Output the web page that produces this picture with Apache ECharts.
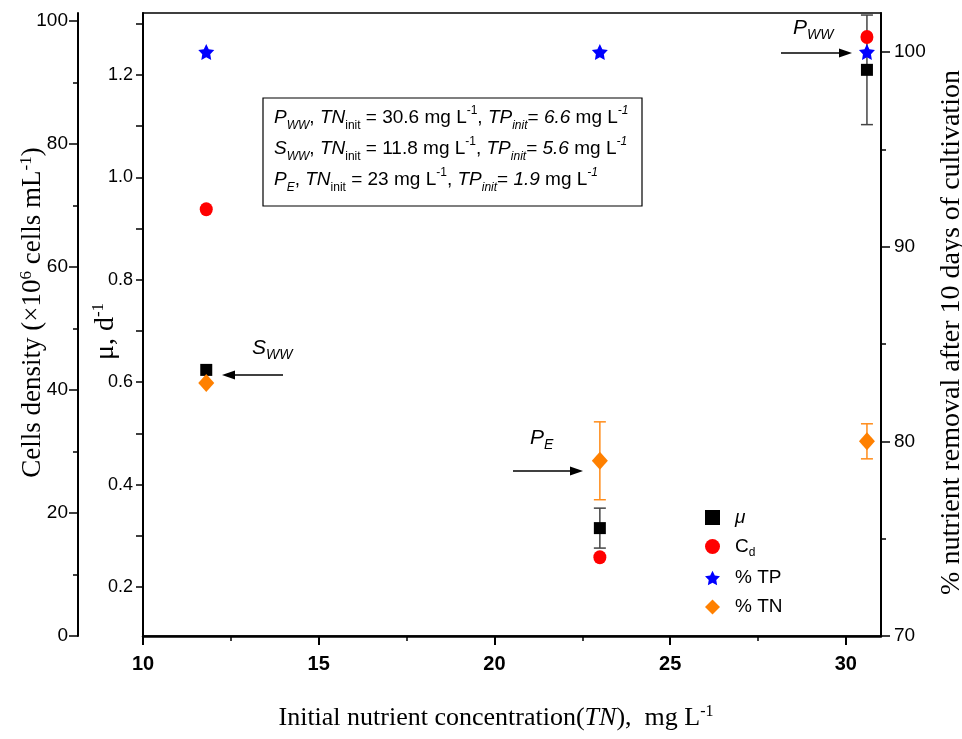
<!DOCTYPE html>
<html>
<head>
<meta charset="utf-8">
<script src="https://cdn.jsdelivr.net/npm/echarts@6/dist/echarts.min.js"></script>
<style>
  html, body { margin: 0; padding: 0; background: #fff; }
  #chart { width: 962px; height: 739px; }
</style>
</head>
<body>
<div id="chart"></div>
<script>
// Initial TN of the three media: S_WW, P_E, P_WW
const tnInit = [11.8, 23, 30.6];
// Specific growth rate (d^-1) and its deviation
const muVals = [0.624, 0.315, 1.21];
const muErr = [0, 0.039, 0.107];
// Cell density (x10^6 cells/mL)
const cdVals = [69.4, 12.8, 97.4];
// Nutrient removal after 10 days (%)
const tpVals = [100, 100, 100];
const tnVals = [83.0, 79.0, 80.0];
const tnErr = [0, 2.0, 0.9];

// Tick positions
const xTicks = [10, 15, 20, 25, 30];
const xMinorTicks = [12.5, 17.5, 22.5, 27.5];
const muLabels = [0.2, 0.4, 0.6, 0.8, 1.0, 1.2];
const muTicks = [0.2, 0.3, 0.4, 0.5, 0.6, 0.7, 0.8, 0.9, 1.0, 1.1, 1.2, 1.3];
const cellTicks = [0, 20, 40, 60, 80, 100];
const cellMinorTicks = [10, 30, 50, 70, 90];
const removalTicks = [70, 80, 90, 100];
const removalMinorTicks = [75, 85, 95];

const SANS = "'Liberation Sans', Arial, sans-serif";
const SERIF = "'Liberation Serif', 'Times New Roman', serif";

const STAR = 'path://M0,-10 L2.94,-4.05 9.51,-3.09 4.76,1.55 5.88,8.09 0,5 -5.88,8.09 -4.76,1.55 -9.51,-3.09 -2.94,-4.05Z';

const chart = echarts.init(document.getElementById('chart'), null, { renderer: 'canvas' });

function zip2(a, b) { return a.map((v, i) => [v, b[i]]); }
function errRows(xs, ys, es) {
  return xs.map((x, i) => [x, ys[i] - es[i], ys[i] + es[i]]).filter((r, i) => es[i] > 0);
}

function errorBar(color) {
  return function (params, api) {
    const x = api.value(0);
    const lo = api.coord([x, api.value(1)]);
    const hi = api.coord([x, api.value(2)]);
    const cap = 6;
    const style = { stroke: color, lineWidth: 1.5 };
    return {
      type: 'group',
      children: [
        { type: 'line', shape: { x1: lo[0], y1: lo[1], x2: hi[0], y2: hi[1] }, style },
        { type: 'line', shape: { x1: lo[0] - cap, y1: lo[1], x2: lo[0] + cap, y2: lo[1] }, style },
        { type: 'line', shape: { x1: hi[0] - cap, y1: hi[1], x2: hi[0] + cap, y2: hi[1] }, style }
      ]
    };
  };
}

const axisLineStyle = { color: '#000', width: 2 };

function tickOnlyAxis(base, ticks, len) {
  return Object.assign({
    type: 'value',
    gridIndex: 0,
    axisLine: { show: false, onZero: false },
    axisTick: { show: true, customValues: ticks, length: len, lineStyle: { color: '#000', width: 1.5 } },
    axisLabel: { show: false },
    splitLine: { show: false }
  }, base);
}

const subRich = {
  n: { fontFamily: SANS, fontSize: 19, color: '#000', lineHeight: 31 },
  i: { fontFamily: SANS, fontSize: 19, fontStyle: 'italic', color: '#000', lineHeight: 31 },
  sb: { fontFamily: SANS, fontSize: 12, color: '#000', verticalAlign: 'bottom', lineHeight: 31, padding: [0, 0, 1, 0] },
  sbi: { fontFamily: SANS, fontSize: 12, fontStyle: 'italic', color: '#000', verticalAlign: 'bottom', lineHeight: 31, padding: [0, 0, 1, 0] },
  sp: { fontFamily: SANS, fontSize: 12, color: '#000', verticalAlign: 'top', lineHeight: 31, padding: [3, 0, 0, 0] },
  spi: { fontFamily: SANS, fontSize: 12, fontStyle: 'italic', color: '#000', verticalAlign: 'top', lineHeight: 31, padding: [3, 0, 0, 0] }
};

const boxText = [
  '{i|P}{sbi|WW}{n|, }{i|TN}{sb|init}{n| = 30.6 mg L}{sp|-1}{n|, }{i|TP}{sbi|init}{n|= }{i|6.6}{n| mg L}{spi|-1}',
  '{i|S}{sbi|WW}{n|, }{i|TN}{sb|init}{n| = 11.8 mg L}{sp|-1}{n|, }{i|TP}{sbi|init}{n|= }{i|5.6}{n| mg L}{spi|-1}',
  '{i|P}{sbi|E}{n|, }{i|TN}{sb|init}{n| = 23 mg L}{sp|-1}{n|, }{i|TP}{sbi|init}{n|= }{i|1.9}{n| mg L}{spi|-1}'
].join('\n');

const tagRich = {
  b: { fontFamily: SANS, fontSize: 21, fontStyle: 'italic', color: '#000', lineHeight: 28 },
  s: { fontFamily: SANS, fontSize: 14, fontStyle: 'italic', color: '#000', verticalAlign: 'bottom', lineHeight: 28 }
};

function arrow(x1, x2, y) {
  const dir = x2 > x1 ? 1 : -1;
  const head = 13;
  return [
    { type: 'line', shape: { x1: x1, y1: y, x2: x2 - dir * head, y2: y }, style: { stroke: '#000', lineWidth: 1.3 } },
    { type: 'polygon', shape: { points: [[x2, y], [x2 - dir * head, y - 4.5], [x2 - dir * head, y + 4.5]] }, style: { fill: '#000' } }
  ];
}

const option = {
  animation: false,
  backgroundColor: '#fff',
  grid: [{
    left: 143, right: 81, top: 13, bottom: 103, containLabel: false, outerBoundsMode: 'none',
    show: true, borderColor: '#000', borderWidth: 1.5, backgroundColor: 'transparent'
  }],
  xAxis: [
    {
      type: 'value', gridIndex: 0, position: 'bottom', min: 10, max: 31,
      axisLine: { show: true, onZero: false, lineStyle: { color: '#000', width: 2.5 } },
      axisTick: { show: true, customValues: xTicks, length: 9, lineStyle: { color: '#000', width: 2 } },
      axisLabel: { customValues: xTicks, margin: 18, fontFamily: SANS, fontSize: 20, fontWeight: 'bold', color: '#000' },
      splitLine: { show: false },
      name: 'Initial nutrient concentration({it|TN}),  mg L{sp|-1}',
      nameLocation: 'middle', nameGap: 68, nameMoveOverlap: false,
      nameTextStyle: {
        fontFamily: SERIF, fontSize: 26, color: '#000', padding: [0, 32, 0, 0],
        rich: {
          it: { fontFamily: SERIF, fontSize: 26, fontStyle: 'italic', color: '#000' },
          sp: { fontFamily: SERIF, fontSize: 16, color: '#000', verticalAlign: 'top', padding: [0, 0, 12, 0] }
        }
      }
    },
    tickOnlyAxis({ position: 'bottom', min: 10, max: 31 }, xMinorTicks, 5)
  ],
  yAxis: [
    {
      // growth rate, inner left
      type: 'value', gridIndex: 0, position: 'left', offset: 0, min: 0.1043, max: 1.321,
      axisLine: { show: true, onZero: false, lineStyle: axisLineStyle },
      axisTick: { show: true, customValues: muTicks, length: 7, lineStyle: { color: '#000', width: 1.5 } },
      axisLabel: { customValues: muLabels, margin: 10, fontFamily: SANS, fontSize: 18, color: '#000', formatter: v => v.toFixed(1) },
      splitLine: { show: false },
      name: '\u03bc, d{sp|-1}', nameLocation: 'middle', nameGap: 22, nameRotate: 90, nameMoveOverlap: false,
      nameTextStyle: {
        fontFamily: SERIF, fontSize: 28, color: '#000', padding: [0, 14, 0, 0],
        rich: { sp: { fontFamily: SERIF, fontSize: 17, color: '#000', verticalAlign: 'top', padding: [0, 0, 14, 0] } }
      }
    },
    {
      // cell density, outer left
      type: 'value', gridIndex: 0, position: 'left', offset: 65, min: 0, max: 101.3,
      axisLine: { show: true, onZero: false, lineStyle: axisLineStyle },
      axisTick: { show: true, customValues: cellTicks, length: 9, lineStyle: { color: '#000', width: 1.5 } },
      axisLabel: { customValues: cellTicks, margin: 10, fontFamily: SANS, fontSize: 19, color: '#000' },
      splitLine: { show: false },
      name: 'Cells density (\u00d710{sp|6} cells mL{sp|-1})', nameLocation: 'middle', nameGap: 30, nameRotate: 90, nameMoveOverlap: false,
      nameTextStyle: {
        fontFamily: SERIF, fontSize: 27, color: '#000', padding: [0, 0, 0, 24],
        rich: { sp: { fontFamily: SERIF, fontSize: 17, color: '#000', verticalAlign: 'top', padding: [0, 0, 13, 0] } }
      }
    },
    tickOnlyAxis({ position: 'left', offset: 65, min: 0, max: 101.3 }, cellMinorTicks, 5),
    {
      // removal %, right
      type: 'value', gridIndex: 0, position: 'right', offset: 0, min: 70, max: 102,
      axisLine: { show: true, onZero: false, lineStyle: axisLineStyle },
      axisTick: { show: true, customValues: removalTicks, length: 9, lineStyle: { color: '#000', width: 1.5 } },
      axisLabel: { customValues: removalTicks, margin: 13, fontFamily: SANS, fontSize: 19, color: '#000' },
      splitLine: { show: false },
      name: '% nutrient removal after 10 days of cultivation', nameLocation: 'middle', nameGap: 57, nameRotate: 90, nameMoveOverlap: false,
      nameTextStyle: { fontFamily: SERIF, fontSize: 28, color: '#000', padding: [0, 16, 0, 0] }
    },
    tickOnlyAxis({ position: 'right', offset: 0, min: 70, max: 102 }, removalMinorTicks, 5)
  ],
  legend: {
    orient: 'vertical', left: 700, top: 503, itemWidth: 15, itemHeight: 15, itemGap: 10,
    textStyle: {
      fontFamily: SANS, fontSize: 19, color: '#000', padding: [0, 0, 0, 10],
      rich: {
        i: { fontFamily: SANS, fontSize: 19, fontStyle: 'italic', color: '#000' },
        s: { fontFamily: SANS, fontSize: 12, color: '#000', verticalAlign: 'bottom', padding: [12, 0, 0, 0] }
      }
    },
    formatter: function (name) {
      if (name === 'mu') return '{i|\u03bc}';
      if (name === 'Cd') return 'C{s|d}';
      return name;
    },
    data: [
      { name: 'mu', icon: 'rect' },
      { name: 'Cd', icon: 'circle' },
      { name: '% TP', icon: STAR },
      { name: '% TN', icon: 'diamond' }
    ]
  },
  graphic: [
    { type: 'rect', shape: { x: 263, y: 98, width: 379, height: 108 }, style: { fill: 'none', stroke: '#000', lineWidth: 1.2 }, z: 10 },
    { type: 'text', x: 274, y: 102, style: { text: boxText, rich: subRich, fill: '#000' }, z: 10 },
    { type: 'text', x: 793, y: 14, style: { text: '{b|P}{s|WW}', rich: tagRich }, z: 10 },
    { type: 'text', x: 252, y: 334, style: { text: '{b|S}{s|WW}', rich: tagRich }, z: 10 },
    { type: 'text', x: 530, y: 424, style: { text: '{b|P}{s|E}', rich: tagRich }, z: 10 }
  ].concat(arrow(781, 852, 53), arrow(283, 222, 375), arrow(513, 583, 471)),
  series: [
    {
      name: 'muErr', type: 'custom', xAxisIndex: 0, yAxisIndex: 0, z: 1,
      renderItem: errorBar('#444'), encode: { x: 0, y: [1, 2] },
      data: errRows(tnInit, muVals, muErr), silent: true
    },
    {
      name: 'tnErr', type: 'custom', xAxisIndex: 0, yAxisIndex: 3, z: 1,
      renderItem: errorBar('#ff8c1a'), encode: { x: 0, y: [1, 2] },
      data: errRows(tnInit, tnVals, tnErr), silent: true
    },
    {
      name: 'mu', type: 'scatter', xAxisIndex: 0, yAxisIndex: 0, z: 3,
      symbol: 'rect', symbolSize: 12, itemStyle: { color: '#000', opacity: 1 },
      data: zip2(tnInit, muVals)
    },
    {
      name: 'Cd', type: 'scatter', xAxisIndex: 0, yAxisIndex: 1, z: 4,
      symbol: 'circle', symbolSize: [13, 14], itemStyle: { color: '#ff0000', opacity: 1 },
      data: zip2(tnInit, cdVals)
    },
    {
      name: '% TP', type: 'scatter', xAxisIndex: 0, yAxisIndex: 3, z: 5,
      symbol: STAR, symbolSize: 16, itemStyle: { color: '#0000ff', opacity: 1 },
      data: zip2(tnInit, tpVals)
    },
    {
      name: '% TN', type: 'scatter', xAxisIndex: 0, yAxisIndex: 3, z: 5,
      symbol: 'diamond', symbolSize: [16, 18], itemStyle: { color: '#ff8000', opacity: 1 },
      data: zip2(tnInit, tnVals)
    }
  ]
};

chart.setOption(option);
</script>
</body>
</html>
